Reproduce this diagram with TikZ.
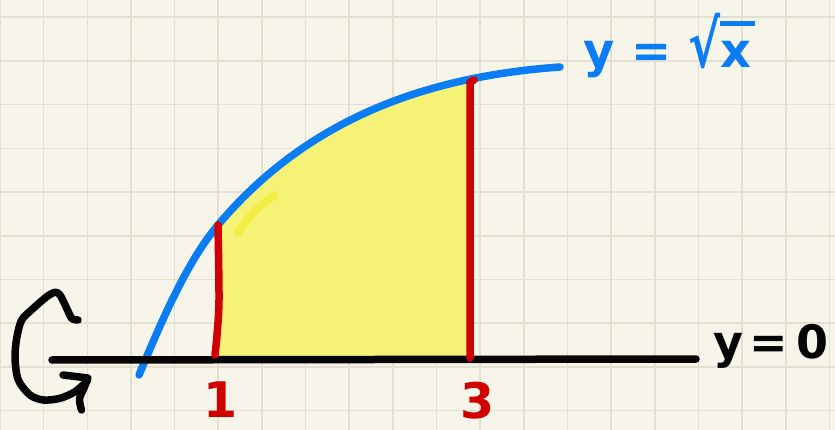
\documentclass[tikz,border=0pt]{standalone}
\usepackage{fontspec}
\setmainfont{DejaVu Sans}
\definecolor{paper}{HTML}{F7F5EA}
\definecolor{gridc}{HTML}{E3E0D1}
\definecolor{curveblue}{HTML}{0A7DF5}
\definecolor{markred}{HTML}{D10000}
\definecolor{areayel}{HTML}{F5F275}
\definecolor{hiyel}{HTML}{F0EC38}
\definecolor{ink}{HTML}{050505}
\tikzset{
  gridline/.style={draw=gridc, line width=1.6pt},
  bluecurve/.style={draw=curveblue, line width=7.5pt, line cap=round, line join=round},
  redline/.style={draw=markred, line width=7.5pt, line cap=round, line join=round},
  inkline/.style={draw=ink, line width=7.5pt, line cap=round, line join=round},
  hilite/.style={draw=hiyel, line width=8pt, line cap=round, opacity=0.8},
  redlabel/.style={text=markred, font=\fontsize{49}{49}\selectfont\bfseries, inner sep=0pt},
  bluelabel/.style={text=curveblue, font=\fontsize{48}{48}\selectfont\bfseries, inner sep=0pt},
  inklabel/.style={text=ink, font=\fontsize{46}{46}\selectfont\bfseries, inner sep=0pt}
}
\begin{document}
\begin{tikzpicture}[x=1pt,y=-1pt]
\fill[paper] (0,0) rectangle (835,430);
\useasboundingbox (0,0) rectangle (835,430);
% grid
\foreach \i in {0,...,19} \draw[gridline] (\i*43.65,0) -- (\i*43.65,430);
\foreach \j in {0,...,9} \draw[gridline] (0,17.3+\j*43.7) -- (835,17.3+\j*43.7);
% named points of the curve
\coordinate (c0) at (139,375);
\coordinate (c1) at (218,225);
\coordinate (c2) at (560,67);
% shaded area
\begin{scope}
  \clip (218,0) rectangle (469,356);
  \fill[areayel] (c0) .. controls (166,310) and (190,258) .. (c1)
     .. controls (318,106) and (450,75) .. (c2) -- (560,360) -- (139,360) -- cycle;
\end{scope}
\draw[hilite] (238,232) .. controls (250,215) and (262,203) .. (275,195);
% curve y = sqrt x
\draw[bluecurve] (c0) .. controls (166,310) and (190,258) .. (c1)
     .. controls (318,106) and (450,75) .. (c2);
% axis
\coordinate (axL) at (52,360);
\coordinate (axR) at (696,359);
\draw[inkline] (axL) -- (axR);
% bounds
\draw[redline] plot[smooth] coordinates {(218,225) (219,300) (217,335) (215,355)};
\draw[redline] (474,80) -- (470,82) -- (470,358);
% rotation arrow
\draw[inkline] plot[smooth] coordinates {(78,320) (71.7,318.3) (66.7,308.3) (60,295) (55,292.3) (46.7,296.7) (33.3,308.3) (21.7,320) (16.7,338.3) (15,358.3) (18.3,380) (30,395) (43.3,400) (60,398.3) (75,391.7) (87.3,381)};
\draw[inkline] (63,375) -- (88,378) -- plot[smooth] coordinates {(88,378) (84,388) (79.5,399) (81.5,410)};
% labels
\node[redlabel] (one) at (221,400) {1};
\node[redlabel] (three) at (478,401) {3};
\node[inklabel, anchor=base west] (yzero) at (713,358) {y\kern6pt=\kern9pt0};
\node[bluelabel, anchor=base west] (eqn) at (583,68) {y = \scalebox{1}[1.35]{√}\rlap{\rule[0.87em]{0.72em}{0.1em}}x};
\end{tikzpicture}
\end{document}
